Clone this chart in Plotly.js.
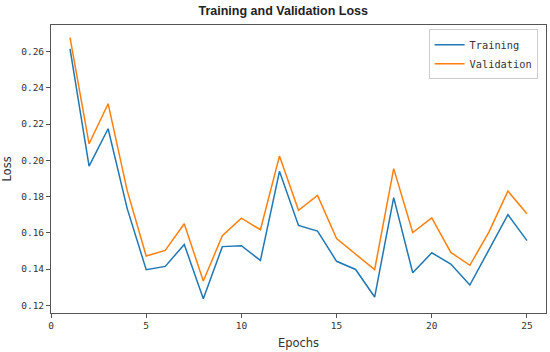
<!DOCTYPE html>
<html><head><meta charset="utf-8">
<script src="https://cdn.plot.ly/plotly-3.0.1.min.js"></script>
<style>html,body{margin:0;padding:0;background:#fff}</style>
</head><body>
<div id="chart" style="width:550px;height:352px"></div>
<script>
const epochs = [1,2,3,4,5,6,7,8,9,10,11,12,13,14,15,16,17,18,19,20,21,22,23,24,25];
const trainingLoss = [0.2615,0.1968,0.2174,0.1735,0.1397,0.1415,0.1536,0.1237,0.1524,0.1529,0.1448,0.1939,0.1641,0.1610,0.1443,0.1398,0.1246,0.1794,0.1380,0.1490,0.1428,0.1312,0.1506,0.1700,0.1557];
const validationLoss = [0.2676,0.2091,0.2312,0.1834,0.1472,0.1503,0.1650,0.1334,0.1584,0.1681,0.1617,0.2023,0.1724,0.1806,0.1568,0.1481,0.1397,0.1954,0.1602,0.1683,0.1492,0.1421,0.1604,0.1830,0.1705];
const xTicks = [0,5,10,15,20,25];
const yTicks = [0.12,0.14,0.16,0.18,0.20,0.22,0.24,0.26];

const mono = "DejaVu Sans Mono";
const traces = [
  {x: epochs, y: trainingLoss, type: 'scatter', mode: 'lines', name: 'Training',
   line: {color: '#1f77b4', width: 1.5}},
  {x: epochs, y: validationLoss, type: 'scatter', mode: 'lines', name: 'Validation',
   line: {color: '#ff7f0e', width: 1.5}}
];
const axisCommon = {
  showline: true, linecolor: '#555', linewidth: 1, mirror: true,
  ticks: 'outside', ticklen: 4, tickcolor: '#555', showgrid: false, zeroline: false,
  tickfont: {family: mono, size: 9.5, color: '#333'}
};
const layout = {
  width: 550, height: 352,
  margin: {l: 51, r: 4, t: 25, b: 39},
  paper_bgcolor: '#fff', plot_bgcolor: '#fff',
  title: {text: '<b>Training and Validation Loss</b>', x: 0.515, xanchor: 'center', y: 0.97, yanchor: 'middle',
          font: {family: 'Liberation Sans', size: 12.5, color: '#222'}},
  xaxis: Object.assign({}, axisCommon, {range: [0, 26], tickvals: xTicks, ticktext: xTicks.map(String),
    title: {text: 'Epochs', standoff: 8, font: {family: 'DejaVu Sans', size: 11.5, color: '#333'}}}),
  yaxis: Object.assign({}, axisCommon, {range: [0.1158, 0.2746], tickvals: yTicks, ticktext: yTicks.map(v => v.toFixed(2)),
    title: {text: 'Loss', standoff: 12, font: {family: 'DejaVu Sans', size: 11.5, color: '#333'}}}),
  showlegend: true,
  legend: {x: 0.983, xanchor: 'right', y: 0.985, yanchor: 'top', bgcolor: 'rgba(255,255,255,0.8)',
           bordercolor: '#ccc', borderwidth: 1, font: {family: mono, size: 10.3, color: '#333'},
           tracegroupgap: 0, itemwidth: 30}
};
Plotly.newPlot('chart', traces, layout, {displayModeBar: false, staticPlot: true});
</script>
</body></html>
